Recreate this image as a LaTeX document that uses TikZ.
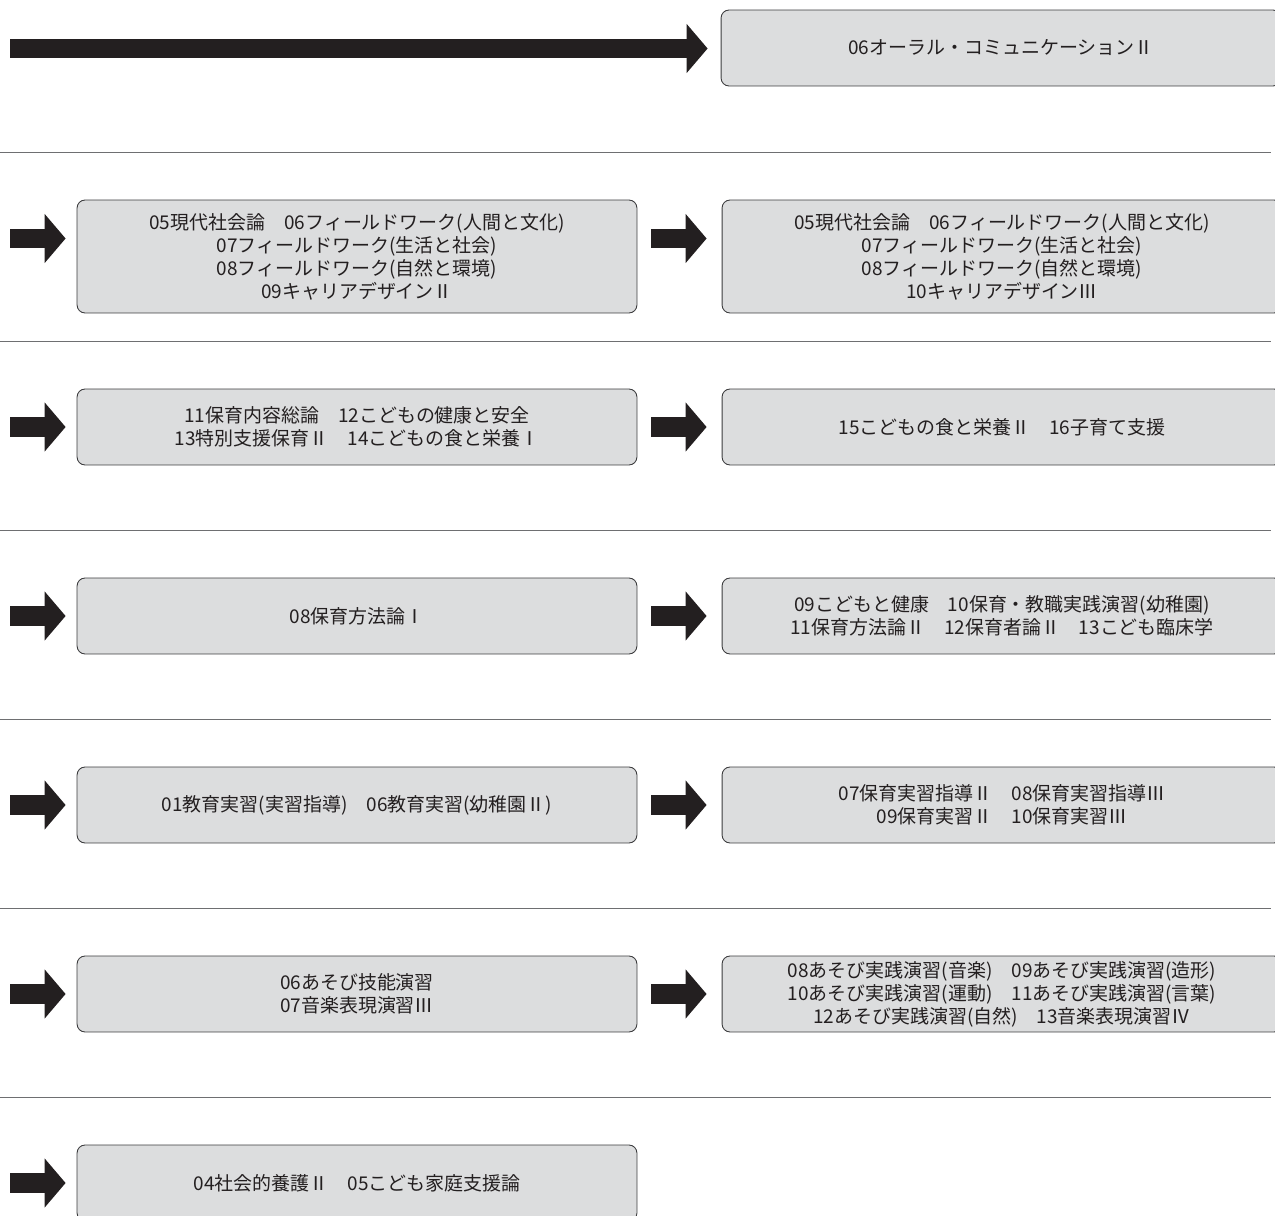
\documentclass[tikz,border=0pt]{standalone}
\usepackage{fontspec}
\newfontfamily\jp{Noto Sans CJK JP}
\usetikzlibrary{arrows.meta}
\definecolor{caixa}{RGB}{220,221,222}
\definecolor{borda}{RGB}{60,60,62}
\definecolor{tinta}{RGB}{35,31,32}
\definecolor{linha}{RGB}{110,111,113}
\tikzset{
    kamoku/.style = {
        draw            = borda,
        fill            = caixa,
        line width      = 0.5pt,
        rounded corners = 0.16cm,
        align           = center,
        text            = tinta,
        inner sep       = 0pt,
        minimum width   = 11.2cm,
        minimum height  = 1.52cm,
        font            = \jp\fontsize{10.8}{13.1}\selectfont,
    },
    seta/.style = {
        draw            = tinta,
        line width      = 0.39cm,
        -{Triangle[length=0.42cm,width=0.96cm]},
    },
    separador/.style = {
        draw            = linha,
        line width      = 0.85pt,
    }
}

\begin{document}
\begin{tikzpicture}[x=0.02cm,y=-0.02cm]
  \useasboundingbox (0,0) rectangle (1275,1216);
  \clip (0,0) rectangle (1275,1216);

  % Linha 0
  \coordinate (Inicio0) at (10,48.5);
  \node[kamoku] (Curso0B) at (1001,48) {06オーラル・コミュニケーションⅡ};
  \draw[seta,shorten >=0.26cm] (Inicio0) to (Inicio0 -| Curso0B.west);

  \draw[separador] (0,152.5) -- (1271,152.5);

  % Linha 1
  \coordinate (Inicio1) at (10,238.5);
  \node[kamoku,minimum height=2.26cm] (Curso1A) at (357,256.5) {05現代社会論　06フィールドワーク(人間と文化)\\07フィールドワーク(生活と社会)\\08フィールドワーク(自然と環境)\\09キャリアデザインⅡ};
  \node[kamoku,minimum height=2.26cm] (Curso1B) at (1002,256.5) {05現代社会論　06フィールドワーク(人間と文化)\\07フィールドワーク(生活と社会)\\08フィールドワーク(自然と環境)\\10キャリアデザインⅢ};
  \draw[seta,shorten >=0.22cm] (Inicio1) to (Inicio1 -| Curso1A.west);
  \draw[seta,shorten <=0.28cm,shorten >=0.3cm] (Inicio1 -| Curso1A.east) to (Inicio1 -| Curso1B.west);

  \draw[separador] (0,341.5) -- (1271,341.5);

  % Linha 2
  \coordinate (Inicio2) at (10,427);
  \node[kamoku] (Curso2A) at (357,427) {11保育内容総論　12こどもの健康と安全\\13特別支援保育Ⅱ　14こどもの食と栄養Ⅰ};
  \node[kamoku] (Curso2B) at (1002,427) {15こどもの食と栄養Ⅱ　16子育て支援};
  \draw[seta,shorten >=0.22cm] (Inicio2) to (Curso2A);
  \draw[seta,shorten <=0.28cm,shorten >=0.3cm] (Curso2A) to (Curso2B);

  \draw[separador] (0,530.5) -- (1271,530.5);

  % Linha 3
  \coordinate (Inicio3) at (10,616);
  \node[kamoku] (Curso3A) at (357,616) {08保育方法論Ⅰ};
  \node[kamoku] (Curso3B) at (1002,616) {09こどもと健康　10保育・教職実践演習(幼稚園)\\11保育方法論Ⅱ　12保育者論Ⅱ　13こども臨床学};
  \draw[seta,shorten >=0.22cm] (Inicio3) to (Curso3A);
  \draw[seta,shorten <=0.28cm,shorten >=0.3cm] (Curso3A) to (Curso3B);

  \draw[separador] (0,719.5) -- (1271,719.5);

  % Linha 4
  \coordinate (Inicio4) at (10,805);
  \node[kamoku] (Curso4A) at (357,805) {01教育実習(実習指導)　06教育実習(幼稚園Ⅱ)};
  \node[kamoku] (Curso4B) at (1002,805) {07保育実習指導Ⅱ　08保育実習指導Ⅲ\\09保育実習Ⅱ　10保育実習Ⅲ};
  \draw[seta,shorten >=0.22cm] (Inicio4) to (Curso4A);
  \draw[seta,shorten <=0.28cm,shorten >=0.3cm] (Curso4A) to (Curso4B);

  \draw[separador] (0,908.5) -- (1271,908.5);

  % Linha 5
  \coordinate (Inicio5) at (10,994);
  \node[kamoku] (Curso5A) at (357,994) {06あそび技能演習\\07音楽表現演習Ⅲ};
  \node[kamoku] (Curso5B) at (1002,994) {08あそび実践演習(音楽)　09あそび実践演習(造形)\\10あそび実践演習(運動)　11あそび実践演習(言葉)\\12あそび実践演習(自然)　13音楽表現演習Ⅳ};
  \draw[seta,shorten >=0.22cm] (Inicio5) to (Curso5A);
  \draw[seta,shorten <=0.28cm,shorten >=0.3cm] (Curso5A) to (Curso5B);

  \draw[separador] (0,1097.5) -- (1271,1097.5);

  % Linha 6
  \coordinate (Inicio6) at (10,1183);
  \node[kamoku] (Curso6A) at (357,1183) {04社会的養護Ⅱ　05こども家庭支援論};
  \draw[seta,shorten >=0.22cm] (Inicio6) to (Curso6A);

\end{tikzpicture}
\end{document}
